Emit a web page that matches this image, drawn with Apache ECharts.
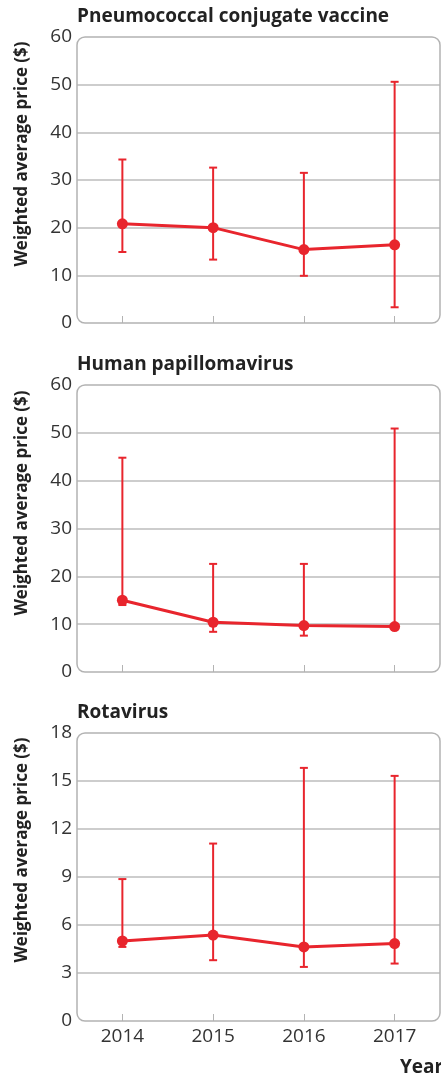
<!DOCTYPE html>
<html>
<head>
<meta charset="utf-8">
<script src="https://cdn.jsdelivr.net/npm/echarts@6/dist/echarts.min.js"></script>
<style>
  html, body { margin: 0; padding: 0; background: #fff; }
  #main { width: 441px; height: 1076px; }
</style>
</head>
<body>
<div id="main"></div>
<script>
// 数据
var years = ['2014', '2015', '2016', '2017'];
var panelTitles = ['Pneumococcal conjugate vaccine', 'Human papillomavirus', 'Rotavirus'];
var yAxisName = 'Weighted average price ($)';

// mean, lower, upper per year
var pcvMean = [20.8, 20.0, 15.4, 16.4];
var pcvLow = [14.9, 13.3, 9.9, 3.3];
var pcvHigh = [34.3, 32.6, 31.5, 50.6];

var hpvMean = [15.0, 10.4, 9.7, 9.5];
var hpvLow = [14.0, 8.4, 7.6, 9.2];
var hpvHigh = [44.8, 22.6, 22.6, 50.9];

var rotaMean = [5.0, 5.37, 4.63, 4.84];
var rotaLow = [4.63, 3.8, 3.38, 3.59];
var rotaHigh = [8.87, 11.09, 15.82, 15.32];

var yMax = [60, 60, 18];
var yStep = [10, 10, 3];

var RED = '#e8252d';
var FONT = '"Open Sans", sans-serif';

var panels = [
  { mean: pcvMean, low: pcvLow, high: pcvHigh },
  { mean: hpvMean, low: hpvLow, high: hpvHigh },
  { mean: rotaMean, low: rotaLow, high: rotaHigh }
];

// layout of the three boxes
var boxes = [
  { top: 37, height: 286 },
  { top: 385, height: 287 },
  { top: 733, height: 288 }
];
var boxLeft = 77, boxWidth = 363;

var chart = echarts.init(document.getElementById('main'));

function errorBarItem(params, api) {
  var x = api.value(0);
  var lo = api.coord([x, api.value(1)]);
  var hi = api.coord([x, api.value(2)]);
  var cap = 4;
  var style = { stroke: RED, lineWidth: 2 };
  return {
    type: 'group',
    children: [
      { type: 'line', shape: { x1: lo[0], y1: lo[1], x2: hi[0], y2: hi[1] }, style: style },
      { type: 'line', shape: { x1: lo[0] - cap, y1: lo[1], x2: lo[0] + cap, y2: lo[1] }, style: style },
      { type: 'line', shape: { x1: hi[0] - cap, y1: hi[1], x2: hi[0] + cap, y2: hi[1] }, style: style }
    ]
  };
}

var grid = [], xAxis = [], yAxis = [], series = [], title = [], graphic = [];

panels.forEach(function (p, i) {
  var b = boxes[i];
  grid.push({ left: boxLeft, top: b.top, width: boxWidth, height: b.height });
  xAxis.push({
    type: 'category',
    gridIndex: i,
    data: years,
    axisLine: { show: false },
    axisTick: { show: true, inside: true, length: 7, alignWithLabel: true, lineStyle: { color: '#b3b3b3', width: 1 } },
    axisLabel: { show: i === 2, color: '#333', fontSize: 19, fontFamily: FONT, margin: 6 },
    splitLine: { show: false }
  });
  yAxis.push({
    type: 'value',
    gridIndex: i,
    min: 0,
    max: yMax[i],
    interval: yStep[i],
    axisLine: { show: false },
    axisTick: { show: false },
    axisLabel: { color: '#333', fontSize: 19, fontFamily: FONT, margin: 5 },
    splitLine: { show: true, showMinLine: false, showMaxLine: false, lineStyle: { color: '#bdbdbd', width: 1.5 } }
  });
  series.push({
    type: 'custom',
    xAxisIndex: i,
    yAxisIndex: i,
    renderItem: errorBarItem,
    data: years.map(function (y, k) { return [k, p.low[k], p.high[k]]; }),
    z: 3
  });
  series.push({
    type: 'line',
    xAxisIndex: i,
    yAxisIndex: i,
    data: p.mean,
    symbol: 'circle',
    symbolSize: 11,
    itemStyle: { color: RED },
    lineStyle: { color: RED, width: 3 },
    z: 4
  });
  title.push({
    text: panelTitles[i],
    left: boxLeft,
    top: [7, 355, 703][i],
    padding: 0,
    textStyle: { fontFamily: FONT, fontWeight: 'bold', fontSize: 19, color: '#222' }
  });
  // rounded plot box
  graphic.push({
    type: 'rect',
    shape: { x: boxLeft, y: b.top, width: boxWidth, height: b.height, r: 8 },
    style: { fill: null, stroke: '#b3b3b3', lineWidth: 1.5 },
    z: 1
  });
  graphic.push({
    type: 'text',
    x: 22,
    y: [154, 503, 850][i],
    rotation: Math.PI / 2,
    style: {
      text: yAxisName,
      fontFamily: FONT,
      fontWeight: 'bold',
      fontSize: 17,
      fill: '#222',
      textAlign: 'center',
      textVerticalAlign: 'middle'
    }
  });
});

graphic.push({
  type: 'text',
  x: 400,
  y: 1068,
  style: {
    text: 'Year',
    fontFamily: FONT,
    fontWeight: 'bold',
    fontSize: 19,
    fill: '#222',
    textAlign: 'left',
    textVerticalAlign: 'middle'
  }
});

var option = {
  animation: false,
  title: title,
  grid: grid,
  xAxis: xAxis,
  yAxis: yAxis,
  series: series,
  graphic: graphic
};

chart.setOption(option);
</script>
</body>
</html>
